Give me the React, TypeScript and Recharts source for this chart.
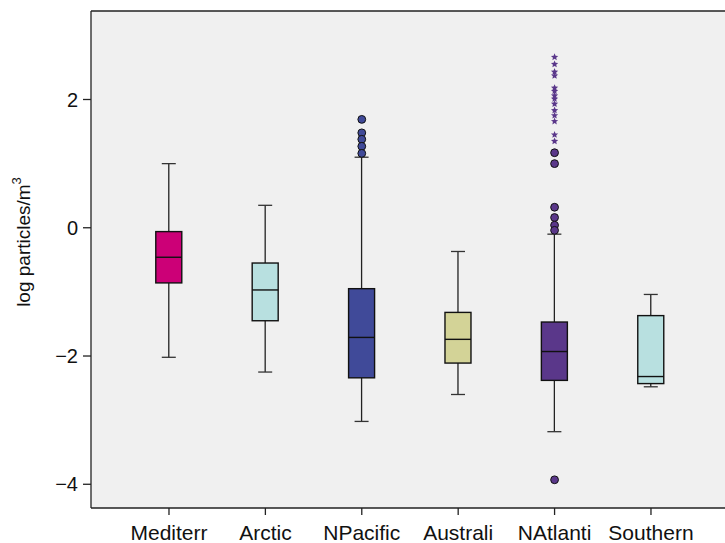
import React from "react";
import {
  ComposedChart,
  Bar,
  Scatter,
  XAxis,
  YAxis,
  ReferenceArea,
  ReferenceLine,
} from "recharts";

// Ocean regions, left to right
const regions = ["Mediterr", "Arctic", "NPacific", "Australi", "NAtlanti", "Southern"];

// Box-plot statistics (log particles/m3)
const whiskerLow = [-2.02, -2.25, -3.02, -2.6, -3.18, -2.48];
const q1 = [-0.86, -1.45, -2.34, -2.11, -2.38, -2.43];
const median = [-0.46, -0.97, -1.71, -1.74, -1.93, -2.32];
const q3 = [-0.06, -0.55, -0.95, -1.32, -1.47, -1.37];
const whiskerHigh = [1.0, 0.35, 1.1, -0.37, -0.1, -1.04];
const boxColors = ["#cc0077", "#b8e0e0", "#404a99", "#d3d397", "#5a378a", "#b8e0e0"];

// Outliers (circles) and extreme values (stars)
const npacificOutliers = [1.69, 1.48, 1.38, 1.27, 1.16];
const natlanticOutliers = [1.17, 1.0, 0.32, 0.16, 0.04, -0.04, -3.93];
const natlanticExtremes = [
  2.66, 2.55, 2.43, 2.37, 2.18, 2.13, 2.06, 2.01, 1.93, 1.83, 1.75, 1.66, 1.45, 1.35,
];

const yTicks = [-4, -2, 0, 2];
const yMin = -4.37;
const yMax = 3.38;
// plot runs past the right edge of the page, like the cropped original
const xMin = 0.191;
const xMax = 7.546;

const boxData = regions.map((name, i) => ({
  idx: i + 1,
  name,
  lo: whiskerLow[i],
  q1: q1[i],
  med: median[i],
  q3: q3[i],
  hi: whiskerHigh[i],
  color: boxColors[i],
}));

const circleData = [
  ...npacificOutliers.map((v) => ({ idx: 3, v, color: "#404a99" })),
  ...natlanticOutliers.map((v) => ({ idx: 5, v, color: "#5a378a" })),
];
const starData = natlanticExtremes.map((v) => ({ idx: 5, v }));

const font = "Arial, 'Liberation Sans', Helvetica, sans-serif";

const BoxShape = (props: any) => {
  const { x, y, width, height, payload } = props;
  const p = payload;
  const scale = height / (p.q3 - p.q1);
  const yOf = (v: number) => y + (p.q3 - v) * scale;
  const cx = x + width / 2;
  const cap = 7;
  return (
    <g>
      <line x1={cx} x2={cx} y1={yOf(p.hi)} y2={y} stroke="#222" strokeWidth={1.3} />
      <line x1={cx} x2={cx} y1={y + height} y2={yOf(p.lo)} stroke="#222" strokeWidth={1.3} />
      <line x1={cx - cap} x2={cx + cap} y1={yOf(p.hi)} y2={yOf(p.hi)} stroke="#333" strokeWidth={1.3} />
      <line x1={cx - cap} x2={cx + cap} y1={yOf(p.lo)} y2={yOf(p.lo)} stroke="#333" strokeWidth={1.3} />
      <rect x={x} y={y} width={width} height={height} fill={p.color} stroke="#111" strokeWidth={1.4} />
      <line x1={x} x2={x + width} y1={yOf(p.med)} y2={yOf(p.med)} stroke="#111" strokeWidth={1.4} />
    </g>
  );
};

const CircleShape = (props: any) => {
  const { cx, cy, payload } = props;
  return <circle cx={cx} cy={cy} r={3.9} fill={payload.color} stroke="#111" strokeWidth={1} />;
};

const StarShape = (props: any) => {
  const { cx, cy } = props;
  const pts: string[] = [];
  for (let k = 0; k < 10; k++) {
    const r = k % 2 === 0 ? 3.8 : 1.7;
    const a = -Math.PI / 2 + (k * Math.PI) / 5;
    pts.push(`${cx + r * Math.cos(a)},${cy + r * Math.sin(a)}`);
  }
  return <polygon points={pts.join(" ")} fill="#5a378a" />;
};

const YLabel = () => (
  <text
    x={25}
    y={242}
    transform="rotate(-90 25 242)"
    textAnchor="middle"
    dominantBaseline="middle"
    fontSize={19}
    fontFamily={font}
    fill="#111"
  >
    log particles/m
    <tspan fontSize={13} dy={-7}>
      3
    </tspan>
  </text>
);

const fmtY = (v: number) => (v < 0 ? "\u2212" + Math.abs(v) : String(v));
const fmtX = (v: number) => regions[v - 1] ?? "";

export default function App() {
  return (
    <div
      style={{
        position: "fixed",
        left: 0,
        top: 0,
        width: 725,
        height: 543,
        overflow: "hidden",
        background: "#fff",
      }}
    >
      <ComposedChart
        width={800}
        height={543}
        data={boxData}
        margin={{ top: 11, right: 0, left: 0, bottom: 0 }}
      >
        <XAxis
          dataKey="idx"
          type="number"
          domain={[xMin, xMax]}
          ticks={[1, 2, 3, 4, 5, 6]}
          tickFormatter={fmtX}
          height={35}
          tickSize={7}
          tickMargin={10}
          axisLine={{ stroke: "#222", strokeWidth: 1.3 }}
          tickLine={{ stroke: "#222", strokeWidth: 1.3 }}
          tick={{ fill: "#111", fontSize: 21, fontFamily: font }}
          allowDataOverflow
        />
        <YAxis
          type="number"
          domain={[yMin, yMax]}
          ticks={yTicks}
          tickFormatter={fmtY}
          width={91}
          tickSize={8}
          tickMargin={5}
          axisLine={{ stroke: "#222", strokeWidth: 1.3 }}
          tickLine={{ stroke: "#222", strokeWidth: 1.3 }}
          tick={{ fill: "#111", fontSize: 20, fontFamily: font }}
          allowDataOverflow
          label={{ content: () => <YLabel /> }}
        />
        <ReferenceArea
          x1={xMin}
          x2={xMax}
          y1={yMin}
          y2={yMax}
          fill="#f0f0f0"
          fillOpacity={1}
          stroke="none"
        />
        <ReferenceLine y={yMax} stroke="#222" strokeWidth={1.3} />
        <Bar
          dataKey={(d: any) => [d.q1, d.q3]}
          barSize={26}
          shape={BoxShape}
          isAnimationActive={false}
        />
        <Scatter
          data={circleData}
          dataKey="v"
          shape={CircleShape}
          isAnimationActive={false}
        />
        <Scatter
          data={starData}
          dataKey="v"
          shape={StarShape}
          isAnimationActive={false}
        />
      </ComposedChart>
    </div>
  );
}
